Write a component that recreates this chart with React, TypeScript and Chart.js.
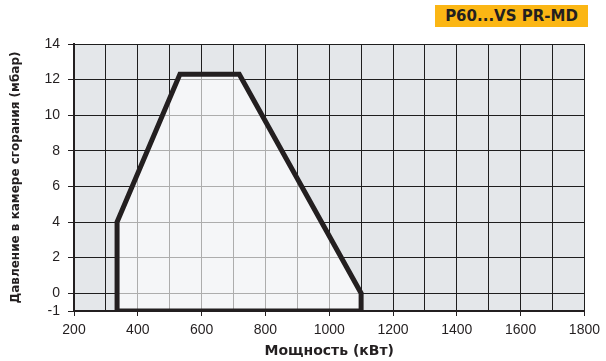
import React, { useEffect, useRef } from "react";
import { Chart, registerables } from "chart.js";

Chart.register(...registerables);

const powerKW: number[] = [335, 335, 532, 718, 1100, 1100, 335];
const pressureMbar: number[] = [-1, 4, 12.3, 12.3, 0, -1, -1];
const yTickValues: number[] = [-1, 0, 2, 4, 6, 8, 10, 12, 14];
const modelLabel = "P60...VS PR-MD";
const xTitle = "Мощность (кВт)";
const yTitle = "Давление в камере сгорания (мбар)";

const INK = "#231f20";
const TICK_FONT = "Liberation Sans, Arial, sans-serif";
const TITLE_FONT = "DejaVu Sans, Liberation Sans, sans-serif";

const bgPlugin = {
  id: "plotBg",
  beforeDraw(chart: any) {
    const { ctx, chartArea } = chart;
    ctx.save();
    ctx.fillStyle = "#e4e7ea";
    ctx.fillRect(chartArea.left, chartArea.top, chartArea.right - chartArea.left, chartArea.bottom - chartArea.top);
    ctx.restore();
  },
};

export default function App() {
  const ref = useRef<HTMLCanvasElement>(null);
  useEffect(() => {
    document.body.style.margin = "0";
    const points = powerKW.map((x, i) => ({ x, y: pressureMbar[i] }));
    const chart = new Chart(ref.current!, {
      type: "scatter",
      data: {
        datasets: [
          {
            data: points,
            showLine: true,
            fill: "shape" as any,
            backgroundColor: "rgba(255,255,255,0.64)",
            borderColor: INK,
            borderWidth: 5,
            borderJoinStyle: "miter",
            pointRadius: 0,
            tension: 0,
          },
        ],
      },
      options: {
        animation: false,
        responsive: false,
        maintainAspectRatio: false,
        layout: { padding: { left: 0, top: 44, right: 21, bottom: 0 } },
        plugins: { legend: { display: false }, tooltip: { enabled: false } },
        scales: {
          x: {
            type: "linear",
            min: 200,
            max: 1800,
            afterBuildTicks: (s: any) => {
              const t = [];
              for (let v = 200; v <= 1800; v += 100) t.push({ value: v });
              s.ticks = t;
            },
            afterFit: (s: any) => {
              s.height = 50;
            },
            ticks: {
              autoSkip: false,
              maxRotation: 0,
              color: INK,
              font: { family: TICK_FONT, size: 14 },
              padding: 6,
              callback: (v: any) => (Number(v) % 200 === 0 ? String(v) : ""),
            },
            grid: {
              color: "#1e1e1e",
              lineWidth: 1,
              tickLength: 5,
              tickColor: (c: any) => (c.tick && c.tick.value % 200 === 0 ? INK : "rgba(0,0,0,0)"),
            },
            border: { color: INK, width: 2 },
            title: {
              display: true,
              text: xTitle,
              color: INK,
              font: { family: TITLE_FONT, size: 14, weight: "bold" },
              padding: { top: 0, bottom: 1 },
            },
          },
          y: {
            type: "linear",
            min: -1,
            max: 14,
            afterBuildTicks: (s: any) => {
              s.ticks = yTickValues.map((v) => ({ value: v }));
            },
            afterFit: (s: any) => {
              s.width = 74;
            },
            ticks: {
              autoSkip: false,
              color: INK,
              font: { family: TICK_FONT, size: 14 },
              padding: 8,
            },
            grid: { color: "#1e1e1e", lineWidth: 1, tickLength: 6, tickColor: INK },
            border: { color: INK, width: 2 },
            title: {
              display: true,
              text: yTitle,
              color: INK,
              font: { family: TITLE_FONT, size: 12, weight: "bold" },
              padding: { top: 9, bottom: 0 },
            },
          },
        },
      },
      plugins: [bgPlugin],
    });
    return () => chart.destroy();
  }, []);
  return (
    <div style={{ position: "relative", width: 606, height: 361, background: "#fff" }}>
      <canvas ref={ref} width={606} height={361} style={{ display: "block" }} />
      <div
        style={{
          position: "absolute",
          left: 435,
          top: 5,
          width: 153,
          height: 22,
          background: "#fbb614",
          color: INK,
          fontFamily: TITLE_FONT,
          fontWeight: "bold",
          fontSize: 15,
          lineHeight: "22px",
          textAlign: "center",
          whiteSpace: "nowrap",
        }}
      >
        {modelLabel}
      </div>
    </div>
  );
}
